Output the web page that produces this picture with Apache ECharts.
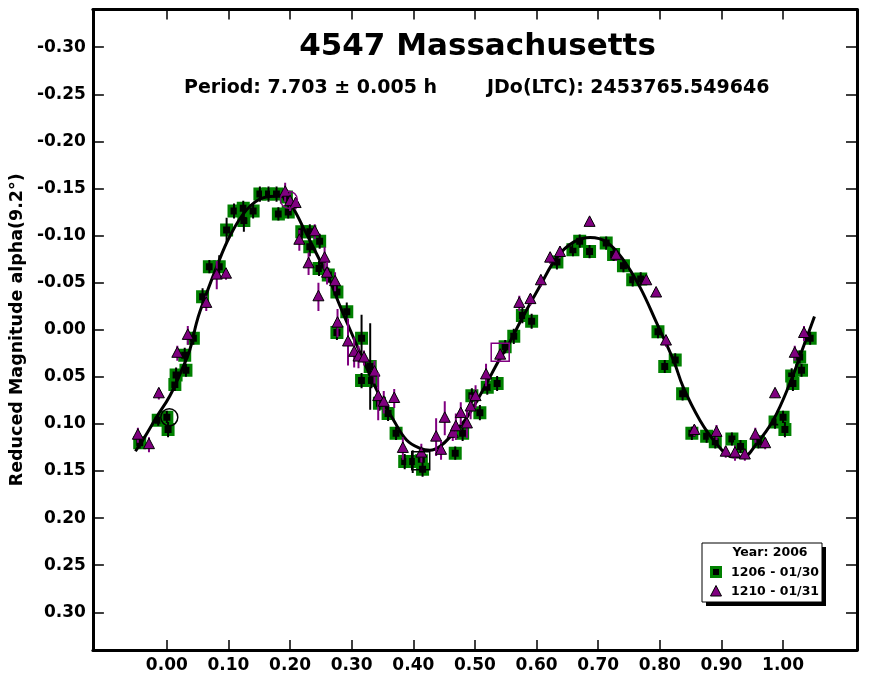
<!DOCTYPE html>
<html>
<head>
<meta charset="utf-8">
<script src="https://cdn.jsdelivr.net/npm/echarts@6/dist/echarts.min.js"></script>
<style>html,body{margin:0;padding:0;background:#fff}#c{width:870px;height:680px}</style>
</head>
<body>
<div id="c"></div>
<script>
// ---- data ----
const titleText = '4547 Massachusetts';
const periodText = 'Period: 7.703 ± 0.005 h';
const epochText = 'JDo(LTC): 2453765.549646';
const yAxisTitle = 'Reduced Magnitude alpha(9.2°)';
const legendHeader = 'Year: 2006';
const sessionNames = ['1206 - 01/30', '1210 - 01/31'];

const xTicks = [0.0, 0.1, 0.2, 0.3, 0.4, 0.5, 0.6, 0.7, 0.8, 0.9, 1.0];
const yTicks = [-0.30, -0.25, -0.20, -0.15, -0.10, -0.05, 0.00, 0.05, 0.10, 0.15, 0.20, 0.25, 0.30];

// [phase, magnitude, error] session 1206 (green squares)
const session1206 = [
  [-0.044,0.120,0.006],[-0.014,0.096,0.006],[0.000,0.093,0.007],[0.002,0.106,0.008],
  [0.013,0.058,0.007],[0.015,0.048,0.008],[0.029,0.027,0.008],[0.031,0.043,0.007],
  [0.043,0.009,0.007],[0.058,-0.035,0.009],[0.069,-0.067,0.007],[0.085,-0.067,0.012],
  [0.097,-0.106,0.013],[0.109,-0.126,0.008],[0.124,-0.129,0.008],[0.125,-0.116,0.012],
  [0.140,-0.126,0.008],[0.151,-0.144,0.008],[0.165,-0.144,0.008],[0.178,-0.144,0.008],
  [0.181,-0.123,0.007],[0.194,-0.141,0.008],[0.197,-0.125,0.007],[0.219,-0.104,0.008],
  [0.232,-0.104,0.008],[0.232,-0.088,0.010],[0.248,-0.094,0.008],[0.247,-0.065,0.008],
  [0.262,-0.058,0.008],[0.276,-0.040,0.008],[0.292,-0.019,0.010],[0.276,0.003,0.008],
  [0.316,0.009,0.025],[0.330,0.039,0.046],[0.316,0.054,0.008],[0.332,0.054,0.008],
  [0.345,0.078,0.008],[0.359,0.089,0.008],[0.372,0.110,0.007],[0.386,0.140,0.008],
  [0.399,0.140,0.012],[0.413,0.139,0.008],[0.415,0.148,0.008],[0.468,0.131,0.007],
  [0.480,0.110,0.008],[0.495,0.070,0.008],[0.508,0.088,0.008],[0.520,0.061,0.008],
  [0.536,0.057,0.008],[0.549,0.018,0.007],[0.563,0.007,0.008],[0.577,-0.015,0.008],
  [0.592,-0.009,0.008],[0.633,-0.072,0.008],[0.659,-0.085,0.007],[0.670,-0.094,0.007],
  [0.686,-0.083,0.007],[0.713,-0.092,0.007],[0.725,-0.080,0.007],[0.741,-0.068,0.007],
  [0.756,-0.053,0.007],[0.769,-0.054,0.007],[0.797,0.002,0.007],[0.808,0.039,0.007],
  [0.825,0.032,0.007],[0.837,0.068,0.007],[0.852,0.110,0.007],[0.876,0.113,0.007],
  [0.890,0.119,0.007],[0.917,0.116,0.007],[0.931,0.124,0.007],[0.960,0.119,0.007],
  [0.987,0.098,0.007],[1.000,0.093,0.007],[1.003,0.106,0.008],[1.014,0.049,0.008],
  [1.016,0.057,0.008],[1.027,0.029,0.007],[1.030,0.043,0.007],[1.044,0.009,0.007]
];

// [phase, magnitude, error] session 1210 (purple triangles)
const session1210 = [
  [-0.047,0.112,0.008],[-0.029,0.122,0.008],[-0.013,0.068,0.006],[0.017,0.025,0.008],
  [0.034,0.006,0.010],[0.064,-0.028,0.008],[0.081,-0.058,0.015],[0.096,-0.059,0.006],
  [0.192,-0.146,0.010],[0.200,-0.136,0.010],[0.209,-0.134,0.006],[0.215,-0.095,0.011],
  [0.230,-0.070,0.012],[0.240,-0.104,0.008],[0.246,-0.035,0.015],[0.256,-0.076,0.012],
  [0.260,-0.060,0.012],[0.273,-0.051,0.010],[0.277,-0.007,0.015],[0.294,0.013,0.025],
  [0.304,0.024,0.016],[0.311,0.029,0.012],[0.320,0.030,0.008],[0.337,0.045,0.012],
  [0.343,0.071,0.025],[0.352,0.077,0.012],[0.369,0.073,0.010],[0.383,0.126,0.012],
  [0.413,0.131,0.010],[0.437,0.114,0.020],[0.445,0.128,0.010],[0.451,0.094,0.018],
  [0.464,0.110,0.008],[0.469,0.103,0.014],[0.477,0.089,0.012],[0.487,0.100,0.015],
  [0.493,0.082,0.013],[0.501,0.071,0.012],[0.518,0.048,0.012],[0.541,0.027,0.006],
  [0.572,-0.028,0.008],[0.590,-0.032,0.006],[0.607,-0.052,0.006],[0.622,-0.076,0.006],
  [0.638,-0.082,0.006],[0.686,-0.114,0.004],[0.729,-0.079,0.006],[0.778,-0.052,0.004],
  [0.794,-0.039,0.004],[0.810,0.012,0.006],[0.856,0.107,0.006],[0.892,0.109,0.008],
  [0.907,0.130,0.006],[0.922,0.131,0.008],[0.938,0.133,0.006],[0.955,0.112,0.008],
  [0.971,0.121,0.006],[0.987,0.068,0.004],[1.019,0.025,0.008],[1.034,0.004,0.008]
];

// Fourier fit curve
const fitCurve = [
  [-0.051,0.129],[-0.036,0.114],[-0.017,0.093],[0.005,0.070],[0.026,0.040],[0.037,0.022],
  [0.048,-0.007],[0.054,-0.020],[0.081,-0.067],[0.102,-0.099],[0.129,-0.127],[0.156,-0.140],
  [0.183,-0.142],[0.200,-0.134],[0.221,-0.109],[0.248,-0.074],[0.265,-0.052],[0.278,-0.030],
  [0.300,0.004],[0.324,0.040],[0.346,0.071],[0.368,0.096],[0.389,0.117],[0.411,0.126],
  [0.427,0.128],[0.443,0.124],[0.465,0.110],[0.487,0.093],[0.513,0.064],[0.541,0.030],
  [0.551,0.020],[0.578,-0.014],[0.606,-0.047],[0.633,-0.077],[0.660,-0.093],[0.687,-0.098],
  [0.714,-0.093],[0.741,-0.074],[0.768,-0.045],[0.795,-0.007],[0.822,0.032],[0.838,0.061],
  [0.865,0.096],[0.892,0.121],[0.919,0.135],[0.935,0.135],[0.957,0.121],[0.984,0.096],
  [1.011,0.057],[1.033,0.018],[1.051,-0.014]
];

// first points of each session (open markers)
const firstCircles = [[0.004,0.093,'#000000'],[0.198,-0.138,'#800080']];
const firstSquares = [[0.412,0.139,'#000000'],[0.541,0.024,'#800080']];

// ---- chart ----
const FONT = '"DejaVu Sans", sans-serif';
const GREEN = '#008000', PURPLE = '#800080';
const chart = echarts.init(document.getElementById('c'), null, {renderer:'canvas'});

function renderGreen(params, api) {
  const x = api.value(0), y = api.value(1), e = api.value(2);
  const c = api.coord([x, y]);
  const t = api.coord([x, y - e]), b = api.coord([x, y + e]);
  return {type:'group', children:[
    {type:'rect', shape:{x:c[0]-6.5, y:c[1]-6.5, width:13, height:13}, style:{fill:GREEN}},
    {type:'rect', shape:{x:c[0]-3.5, y:c[1]-3.5, width:7, height:7}, style:{fill:'#000'}},
    {type:'line', shape:{x1:c[0], y1:t[1], x2:c[0], y2:b[1]}, style:{stroke:'#000', lineWidth:2}}
  ]};
}
function renderPurple(params, api) {
  const x = api.value(0), y = api.value(1), e = api.value(2);
  const c = api.coord([x, y]);
  const t = api.coord([x, y - e]), b = api.coord([x, y + e]);
  return {type:'group', children:[
    {type:'line', shape:{x1:c[0], y1:t[1], x2:c[0], y2:b[1]}, style:{stroke:PURPLE, lineWidth:2}},
    {type:'polygon', shape:{points:[[c[0], c[1]-6.5],[c[0]-5.5, c[1]+4],[c[0]+5.5, c[1]+4]]},
     style:{fill:PURPLE, stroke:'#000', lineWidth:1}}
  ]};
}
function renderOpen(kind) {
  return function(params, api) {
    const c = api.coord([api.value(0), api.value(1)]);
    const col = (kind === 'circle' ? firstCircles : firstSquares)[params.dataIndex][2];
    if (kind === 'circle') {
      return {type:'circle', shape:{cx:c[0], cy:c[1], r:8.5}, style:{fill:'none', stroke:col, lineWidth:1.5}};
    }
    return {type:'rect', shape:{x:c[0]-9, y:c[1]-9, width:18, height:18}, style:{fill:'none', stroke:col, lineWidth:1.5}};
  };
}

const axisLineStyle = {show:true, onZero:false, lineStyle:{color:'#000', width:3}};
const tickStyle = {color:'#000', width:1.5};
const labelStyle = {fontFamily:FONT, fontWeight:'bold', fontSize:17, color:'#000'};

const option = {
  animation:false,
  backgroundColor:'#fff',
  grid:{left:92.5, right:13, top:9.5, bottom:30, containLabel:false},
  xAxis:[
    {type:'value', position:'bottom', min:-0.12, max:1.12,
     axisLine:axisLineStyle,
     axisTick:{show:true, inside:true, length:10, lineStyle:tickStyle, customValues:xTicks},
     axisLabel:Object.assign({show:true, margin:7, customValues:xTicks, formatter:v=>v.toFixed(2)}, labelStyle),
     splitLine:{show:false}},
    {type:'value', position:'top', min:-0.12, max:1.12,
     axisLine:axisLineStyle,
     axisTick:{show:true, inside:true, length:10, lineStyle:tickStyle, customValues:xTicks},
     axisLabel:{show:false}, splitLine:{show:false}}
  ],
  yAxis:[
    {type:'value', position:'left', min:-0.34, max:0.34, inverse:true,
     axisLine:axisLineStyle,
     axisTick:{show:true, inside:true, length:11, lineStyle:tickStyle, customValues:yTicks},
     axisLabel:Object.assign({show:true, margin:7, customValues:yTicks, formatter:v=>v.toFixed(2)}, labelStyle),
     splitLine:{show:false},
     name:yAxisTitle, nameLocation:'middle', nameRotate:90, nameGap:64,
     nameTextStyle:{fontFamily:FONT, fontWeight:'bold', fontSize:17.5, color:'#000'}},
    {type:'value', position:'right', min:-0.34, max:0.34, inverse:true,
     axisLine:axisLineStyle,
     axisTick:{show:true, inside:true, length:11, lineStyle:tickStyle, customValues:yTicks},
     axisLabel:{show:false}, splitLine:{show:false}}
  ],
  series:[
    {type:'custom', name:sessionNames[0], renderItem:renderGreen, data:session1206, z:2, clip:true},
    {type:'line', data:fitCurve, smooth:0.4, showSymbol:false, symbol:'none',
     lineStyle:{color:'#000', width:3}, z:3},
    {type:'custom', name:sessionNames[1], renderItem:renderPurple, data:session1210, z:4, clip:true},
    {type:'custom', renderItem:renderOpen('circle'), data:firstCircles.map(p=>[p[0],p[1]]), z:5},
    {type:'custom', renderItem:renderOpen('square'), data:firstSquares.map(p=>[p[0],p[1]]), z:5}
  ],
  graphic:[
    {type:'text', x:477.5, y:47, z:10, style:{text:titleText, font:'bold 31px '+FONT, fill:'#000', textAlign:'center', textVerticalAlign:'middle'}},
    {type:'text', x:184, y:88, z:10, style:{text:periodText, font:'bold 19px '+FONT, fill:'#000', textAlign:'left', textVerticalAlign:'middle'}},
    {type:'text', x:487, y:88, z:10, style:{text:epochText, font:'bold 19px '+FONT, fill:'#000', textAlign:'left', textVerticalAlign:'middle'}},
    // legend box
    {type:'rect', z:10, shape:{x:706, y:547, width:120, height:59}, style:{fill:'#000'}},
    {type:'rect', z:11, shape:{x:702, y:543, width:120, height:59}, style:{fill:'#fff', stroke:'#000', lineWidth:1}},
    {type:'text', z:12, x:770, y:553, style:{text:legendHeader, font:'bold 12.5px '+FONT, fill:'#000', textAlign:'center', textVerticalAlign:'middle'}},
    {type:'rect', z:12, shape:{x:710, y:566, width:12, height:12}, style:{fill:GREEN}},
    {type:'rect', z:13, shape:{x:713, y:569, width:6, height:6}, style:{fill:'#000'}},
    {type:'text', z:12, x:731, y:573, style:{text:sessionNames[0], font:'bold 12.5px '+FONT, fill:'#000', textAlign:'left', textVerticalAlign:'middle'}},
    {type:'polygon', z:12, shape:{points:[[716,585.5],[710.5,596],[721.5,596]]}, style:{fill:PURPLE, stroke:'#000', lineWidth:1}},
    {type:'text', z:12, x:731, y:592, style:{text:sessionNames[1], font:'bold 12.5px '+FONT, fill:'#000', textAlign:'left', textVerticalAlign:'middle'}}
  ]
};
chart.setOption(option);
</script>
</body>
</html>
